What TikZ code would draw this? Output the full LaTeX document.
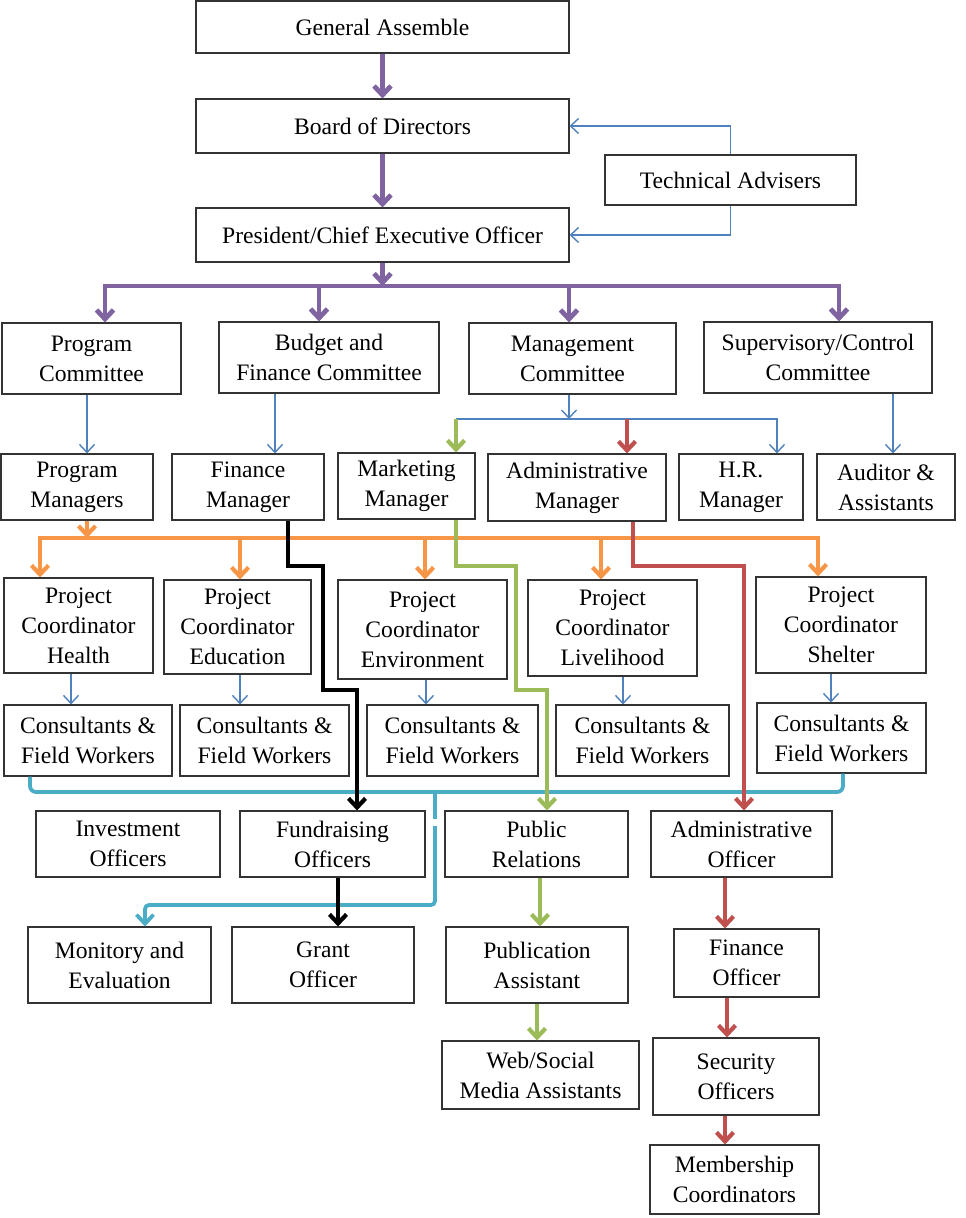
\documentclass[tikz,border=0pt]{standalone}
\usepackage{fontspec}
\setmainfont{Liberation Serif}
\usepackage{xcolor}
\usepackage{tikz}
\usetikzlibrary{calc, arrows.meta}
\definecolor{orgpurple}{HTML}{8064A2}
\definecolor{orgblue}{HTML}{4F81BD}
\definecolor{orggreen}{HTML}{9BBB59}
\definecolor{orgred}{HTML}{C0504D}
\definecolor{orgorange}{HTML}{F79646}
\definecolor{orgcyan}{HTML}{4BACC6}
\definecolor{boxline}{HTML}{333333}
\newcommand{\fsBox}{\fontsize{23.6}{30}\selectfont}

\begin{document}
\begin{tikzpicture}[x=1pt, y=-1pt,
  every node/.style={font=\fsBox},
  unitbox/.style={draw=boxline, line width=1.1pt, align=center, inner sep=0pt},
  thickline/.style={line width=4.2pt, >={Straight Barb[length=9pt, width=17pt]}},
  purpline/.style={thickline, orgpurple, line width=4.8pt},
  orangeline/.style={thickline, orgorange},
  greenline/.style={thickline, orggreen},
  redline/.style={thickline, orgred},
  blackline/.style={thickline, black},
  cyanline/.style={thickline, orgcyan, line width=3.8pt},
  blueline/.style={orgblue, line width=1.4pt, >={Straight Barb[length=8pt, width=15pt]}}]
  \useasboundingbox (0,0) rectangle (966,1218);

  % top of the chart
  \node[unitbox, minimum width=373, minimum height=52] (ga) at (382.5,27) {General Assemble};
  \node[unitbox, minimum width=373, minimum height=54] (bod) at (382.5,126) {Board of Directors};
  \node[unitbox, minimum width=251, minimum height=50] (ta) at (730.5,180) {Technical Advisers};
  \node[unitbox, minimum width=373, minimum height=54] (pceo) at (382.5,235) {President/Chief Executive Officer};

  % committees
  \node[unitbox, minimum width=179, minimum height=71] (pc) at (91.5,358.5) {Program\\Committee};
  \node[unitbox, minimum width=220, minimum height=71] (bfc) at (329,357.5) {Budget and\\Finance Committee};
  \node[unitbox, minimum width=207, minimum height=71] (mc) at (572.5,358.5) {Management\\Committee};
  \node[unitbox, minimum width=228, minimum height=71] (svc) at (818,357.5) {Supervisory/Control\\Committee};

  % managers
  \node[unitbox, minimum width=152, minimum height=66] (pm) at (77,487) {Program\\Managers};
  \node[unitbox, minimum width=152, minimum height=66] (fm) at (248,487) {Finance\\Manager};
  \node[unitbox, minimum width=137, minimum height=66] (mm) at (406.5,486) {Marketing\\Manager};
  \node[unitbox, minimum width=178, minimum height=67] (am) at (577,487.5) {Administrative\\Manager};
  \node[unitbox, minimum width=124, minimum height=66] (hr) at (741,487) {H.R.\\Manager};
  \node[unitbox, minimum width=138, minimum height=66] (aud) at (886,487) {Auditor \&\\Assistants};

  % project coordinators
  \node[unitbox, minimum width=149, minimum height=95] (pch) at (78.5,625.5) {Project\\Coordinator\\Health};
  \node[unitbox, minimum width=147, minimum height=94] (pce) at (237.5,627) {Project\\Coordinator\\Education};
  \node[unitbox, minimum width=169, minimum height=99] (pcv) at (422.5,629.5) {Project\\Coordinator\\Environment};
  \node[unitbox, minimum width=169, minimum height=96] (pcl) at (612.5,628) {Project\\Coordinator\\Livelihood};
  \node[unitbox, minimum width=170, minimum height=96] (pcs) at (841,625) {Project\\Coordinator\\Shelter};

  % consultants
  \node[unitbox, minimum width=168, minimum height=71] (cf1) at (88,740.5) {Consultants \&\\Field Workers};
  \node[unitbox, minimum width=169, minimum height=71] (cf2) at (264.5,740.5) {Consultants \&\\Field Workers};
  \node[unitbox, minimum width=171, minimum height=71] (cf3) at (452.5,740.5) {Consultants \&\\Field Workers};
  \node[unitbox, minimum width=173, minimum height=71] (cf4) at (642.5,740.5) {Consultants \&\\Field Workers};
  \node[unitbox, minimum width=169, minimum height=70] (cf5) at (841.5,738) {Consultants \&\\Field Workers};

  % officers
  \node[unitbox, minimum width=184, minimum height=66] (io) at (128,844) {Investment\\Officers};
  \node[unitbox, minimum width=185, minimum height=66] (fo) at (332.5,844) {Fundraising\\Officers};
  \node[unitbox, minimum width=183, minimum height=66] (pr) at (536.5,844) {Public\\Relations};
  \node[unitbox, minimum width=181, minimum height=66] (ao) at (741.5,844) {Administrative\\Officer};

  \node[unitbox, minimum width=183, minimum height=76] (me) at (119.5,965) {Monitory and\\Evaluation};
  \node[unitbox, minimum width=182, minimum height=76] (go) at (323,965) {Grant\\Officer};
  \node[unitbox, minimum width=182, minimum height=76] (pa) at (537,965) {Publication\\Assistant};
  \node[unitbox, minimum width=145, minimum height=68] (fio) at (746.5,963) {Finance\\Officer};
  \node[unitbox, minimum width=197, minimum height=68] (web) at (540.5,1075) {Web/Social\\Media Assistants};
  \node[unitbox, minimum width=166, minimum height=77] (so) at (736,1076.5) {Security\\Officers};
  \node[unitbox, minimum width=169, minimum height=69] (mbc) at (734.5,1179.5) {Membership\\Coordinators};

  % purple: assembly down to committees
  \coordinate (pbusW) at (105,286);
  \coordinate (pbusE) at (839,286);
  \draw[purpline, ->] (ga) -- (bod);
  \draw[purpline, ->] (bod) -- (pceo);
  \draw[purpline, ->] (pceo.south) -- (pceo.south |- pbusW);
  \draw[purpline, <->] (pbusW |- pc.north) -- (pbusW) -- (pbusE) -- (pbusE |- svc.north);
  \foreach \xx/\nn in {319/bfc, 569/mc}
    \draw[purpline, ->] (\xx,286) -- (\xx,0 |- \nn.north);

  % technical advisers
  \draw[blueline, ->] (ta.north) |- (bod.east);
  \draw[blueline, ->] (ta.south) |- (pceo.east);

  % committees to managers
  \coordinate (mbus) at (569,419);
  \draw[blueline, ->] (87,0 |- pc.south) -- (87,0 |- pm.north);
  \draw[blueline, ->] (275,0 |- bfc.south) -- (275,0 |- fm.north);
  \draw[blueline, ->] (893,0 |- svc.south) -- (893,0 |- aud.north);
  \draw[blueline, ->] (mbus |- mc.south) -- (mbus);
  \draw[blueline, ->] (456,0 |- mbus) -- (777,0 |- mbus) -- (777,0 |- hr.north);
  \draw[greenline, ->] (456,0 |- mbus) -- (456,0 |- mm.north);
  \draw[redline, ->] (627,0 |- mbus) -- (627,0 |- am.north);

  % orange: program managers to coordinators
  \coordinate (obus) at (87,538);
  \draw[orangeline, ->] (obus |- pm.south) -- (obus);
  \draw[orangeline, <->] (40,0 |- pch.north) -- (40,538) -- (818,538) -- (818,0 |- pcs.north);
  \foreach \xx/\nn in {240/pce, 425/pcv, 601/pcl}
    \draw[orangeline, ->] (\xx,538) -- (\xx,0 |- \nn.north);

  \foreach \xx/\aa/\bb in {71/pch/cf1, 240/pce/cf2, 426/pcv/cf3, 623/pcl/cf4, 831/pcs/cf5}
    \draw[blueline, ->] (\xx,0 |- \aa.south) -- (\xx,0 |- \bb.north);

  % cyan: consultants to monitoring
  \draw[cyanline, rounded corners=6] (30,0 |- cf1.south) -- (30,792) -- (843,792) -- (843,0 |- cf5.south);
  \draw[cyanline, rounded corners=4] (435,792) -- (435,819);
  \draw[cyanline, ->, rounded corners=4] (435,826) -- (435,905) -- (145,905) -- (145,0 |- me.north);

  % black: finance
  \draw[blackline, ->] (288,0 |- fm.south) -- (288,566) -- (323,566) -- (323,690) -- (357,690) -- (357,0 |- fo.north);
  \draw[blackline, ->] (338,0 |- fo.south) -- (338,0 |- go.north);

  % green: marketing
  \draw[greenline, ->] (456,0 |- mm.south) -- (456,566) -- (516,566) -- (516,690) -- (547,690) -- (547,0 |- pr.north);
  \draw[greenline, ->] (540,0 |- pr.south) -- (540,0 |- pa.north);
  \draw[greenline, ->] (537,0 |- pa.south) -- (537,0 |- web.north);

  % red: administration
  \draw[redline, ->] (633,0 |- am.south) -- (633,566) -- (744,566) -- (744,0 |- ao.north);
  \draw[redline, ->] (725,0 |- ao.south) -- (725,0 |- fio.north);
  \draw[redline, ->] (727,0 |- fio.south) -- (727,0 |- so.north);
  \draw[redline, ->] (725,0 |- so.south) -- (725,0 |- mbc.north);
\end{tikzpicture}
\end{document}
